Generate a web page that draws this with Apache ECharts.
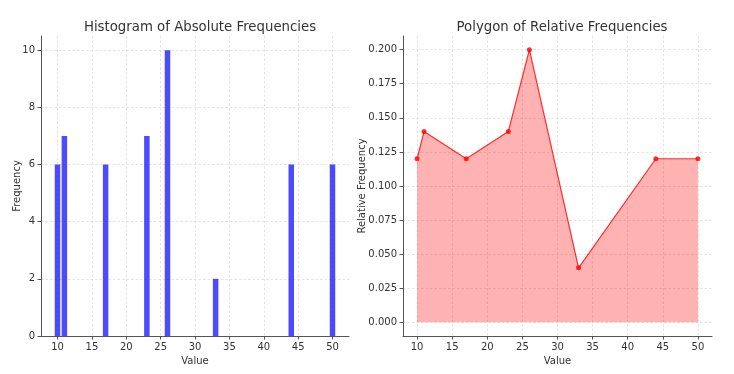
<!DOCTYPE html>
<html><head><meta charset="utf-8">
<script src="https://cdn.jsdelivr.net/npm/echarts@6/dist/echarts.min.js"></script>
<style>html,body{margin:0;padding:0;background:#fff}#c{width:734px;height:374px}</style>
</head><body><div id="c"></div>
<script>
const values = [10, 11, 17, 23, 26, 33, 44, 50];
const absFreq = [6, 7, 6, 7, 10, 2, 6, 6];
const relFreq = [0.12, 0.14, 0.12, 0.14, 0.20, 0.04, 0.12, 0.12];
const xTicks = [10, 15, 20, 25, 30, 35, 40, 45, 50];
const leftYTicks = [0, 2, 4, 6, 8, 10];
const rightYTicks = [0, 0.025, 0.05, 0.075, 0.1, 0.125, 0.15, 0.175, 0.2];
const titles = ['Histogram of Absolute Frequencies', 'Polygon of Relative Frequencies'];

const font = 'DejaVu Sans';
const txt = '#333';
const axisCol = '#555';
const gridStyle = {show: true, lineStyle: {color: '#d8d8d8', type: [2.5, 2], width: 0.7}};

function xAxisCfg(idx, min, max) {
  return {
    type: 'value', gridIndex: idx, min: min, max: max,
    name: 'Value', nameLocation: 'middle', nameGap: 20,
    nameTextStyle: {fontFamily: font, fontSize: 10, color: txt},
    axisLine: {show: true, onZero: false, lineStyle: {color: axisCol, width: 1}},
    axisTick: {show: true, length: 3.5, lineStyle: {color: axisCol}, customValues: xTicks},
    axisLabel: {fontFamily: font, fontSize: 10, color: txt, margin: 6, customValues: xTicks},
    splitLine: gridStyle
  };
}
function yAxisCfg(idx, min, max, ticks, name, gap, fmt) {
  return {
    type: 'value', gridIndex: idx, min: min, max: max,
    name: name, nameLocation: 'middle', nameGap: gap, nameRotate: 90,
    nameMoveOverlap: false,
    nameTextStyle: {fontFamily: font, fontSize: 10, color: txt},
    axisLine: {show: true, onZero: false, lineStyle: {color: axisCol, width: 1}},
    axisTick: {show: true, length: 3.5, lineStyle: {color: axisCol}, customValues: ticks},
    axisLabel: {fontFamily: font, fontSize: 10, color: txt, margin: 6, customValues: ticks, formatter: fmt},
    splitLine: gridStyle
  };
}

const chart = echarts.init(document.getElementById('c'), null, {renderer: 'canvas'});
chart.setOption({
  animation: false,
  backgroundColor: '#fff',
  title: [
    {text: titles[0], left: 195, top: 16, textAlign: 'center',
     textStyle: {fontFamily: font, fontSize: 13.3, fontWeight: 'normal', color: txt}},
    {text: titles[1], left: 557, top: 16, textAlign: 'center',
     textStyle: {fontFamily: font, fontSize: 13.3, fontWeight: 'normal', color: txt}}
  ],
  grid: [
    {left: 41, top: 36, width: 308, height: 300},
    {left: 403, top: 36, width: 309, height: 300}
  ],
  xAxis: [xAxisCfg(0, 7.6, 52.4), xAxisCfg(1, 8, 52)],
  yAxis: [
    yAxisCfg(0, 0, 10.5, leftYTicks, 'Frequency', 19, v => String(v)),
    yAxisCfg(1, -0.01, 0.21, rightYTicks, 'Relative Frequency', 36, v => v.toFixed(3))
  ],
  series: [
    {
      type: 'bar', xAxisIndex: 0, yAxisIndex: 0,
      data: values.map((v, i) => [v, absFreq[i]]),
      barWidth: 5.5,
      itemStyle: {color: 'rgba(0,0,255,0.7)'}
    },
    {
      type: 'line', xAxisIndex: 1, yAxisIndex: 1,
      data: values.map((v, i) => [v, relFreq[i]]),
      symbol: 'circle', symbolSize: 5, showSymbol: true,
      lineStyle: {color: 'rgba(255,0,0,0.8)', width: 1.2},
      itemStyle: {color: 'rgba(255,0,0,0.8)'},
      areaStyle: {color: 'rgba(255,0,0,0.3)', opacity: 1, origin: 0}
    }
  ]
});
</script></body></html>
